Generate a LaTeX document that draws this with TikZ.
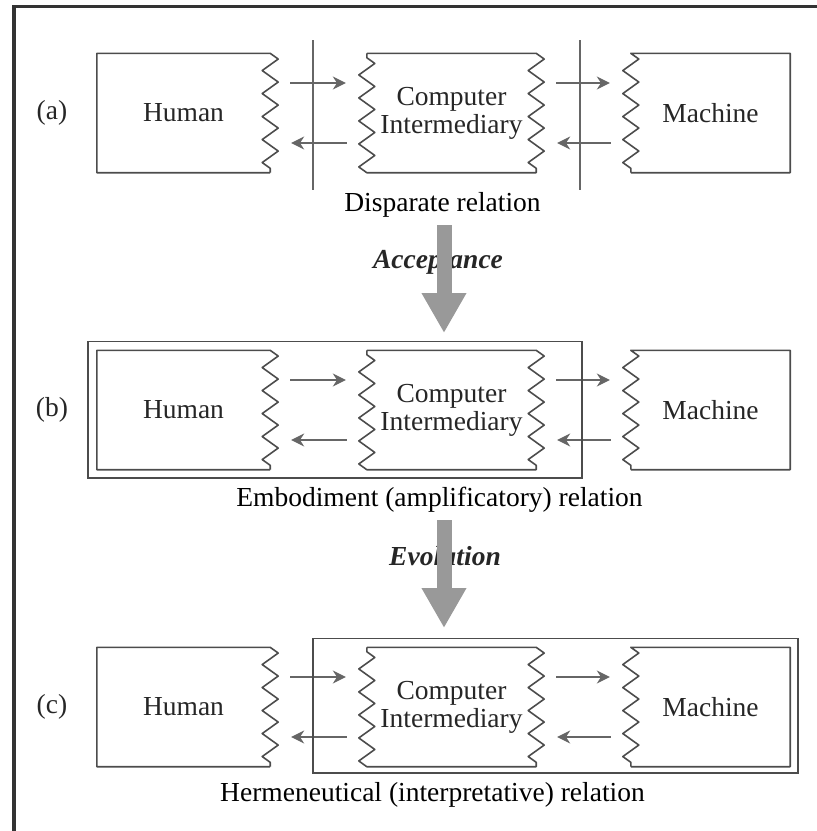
\documentclass[tikz,border=0pt]{standalone}
\usepackage{fontspec}
\setmainfont{Liberation Serif}
\usetikzlibrary{positioning,arrows.meta,decorations.pathmorphing}

\tikzset{
  unit/.style={inner sep=0pt, minimum height=119pt, align=center, text=black!85},
  edge/.style={line width=1.6pt, draw=black!70, line join=round},
  wavy/.style={decoration={zigzag, segment length=23pt, amplitude=8pt}},
  flow/.style={line width=1.2pt, draw=black!60, -{Stealth[length=13pt,width=13pt]},
    shorten <=20pt, shorten >=21pt},
  bigflow/.style={line width=15pt, draw=black!40, -{Triangle[length=40pt,width=42pt]}},
  frame/.style={line width=1.6pt, draw=black!70},
  divider/.style={line width=1.2pt, draw=black!60},
  tag/.style={text=black!85},
  stage/.style={text=black!85, font=\fontsize{27.5}{28}\selectfont\bfseries\itshape},
}

\begin{document}
\begin{tikzpicture}[x=1pt, y=1pt, node distance=2cm, on grid,
    font=\fontsize{27.5}{28}\selectfont]
  \useasboundingbox (0,0) rectangle (817,-831);
  \draw[line width=3.5pt, black!80] (14,-831) -- (14,-6.5) -- (817,-6.5);

  % the three parties, one row per relation
  \node[unit, minimum width=173pt] (humA) at (183.5,-113) {Human};
  \node[unit, minimum width=169pt] (compA) [right=268pt of humA] {Computer\\Intermediary};
  \node[unit, minimum width=159pt] (machA) [right=259pt of compA] {Machine};
  \node[unit, minimum width=173pt] (humB) [below=297pt of humA] {Human};
  \node[unit, minimum width=169pt] (compB) [below=297pt of compA] {Computer\\Intermediary};
  \node[unit, minimum width=159pt] (machB) [below=297pt of machA] {Machine};
  \node[unit, minimum width=173pt] (humC) [below=297pt of humB] {Human};
  \node[unit, minimum width=169pt] (compC) [below=297pt of compB] {Computer\\Intermediary};
  \node[unit, minimum width=159pt] (machC) [below=297pt of machB] {Machine};

  \node[tag] (labA) at (52,-113) {(a)};
  \node[tag] (labB) [below=297pt of labA] {(b)};
  \node[tag] (labC) [below=297pt of labB] {(c)};

  \foreach \r in {A,B,C}{
    \draw[edge] (hum\r.south east) -- (hum\r.south west) -- (hum\r.north west)
      -- (hum\r.north east) decorate[wavy]{-- (hum\r.south east)};
    \draw[edge] (comp\r.north west) -- (comp\r.north east)
      decorate[wavy]{-- (comp\r.south east)} -- (comp\r.south west)
      decorate[wavy]{-- (comp\r.north west)};
    \draw[edge] (mach\r.south west) -- (mach\r.south east) -- (mach\r.north east)
      -- (mach\r.north west) decorate[wavy]{-- (mach\r.south west)};
    \draw[flow] ([yshift=30pt]hum\r.east) -- ([yshift=30pt]comp\r.west);
    \draw[flow] ([yshift=-30pt]comp\r.west) -- ([yshift=-30pt]hum\r.east);
    \draw[flow] ([yshift=30pt]comp\r.east) -- ([yshift=30pt]mach\r.west);
    \draw[flow] ([yshift=-30pt]mach\r.west) -- ([yshift=-30pt]comp\r.east);
  }

  % (a) separate parties
  \draw[divider] (313,-40) -- (313,-190);
  \draw[divider] (580,-40) -- (580,-190);
  % (b) and (c) grouped parties
  \draw[frame] ([shift={(-9pt,9pt)}]humB.north west) rectangle ([shift={(46pt,-8pt)}]compB.south east);
  \draw[frame] ([shift={(-54pt,9pt)}]compC.north west) rectangle ([shift={(8pt,-6pt)}]machC.south east);

  \node (capA) [below=92pt of compA, xshift=-9pt] {Disparate relation};
  \node (capB) [below=90pt of compB, xshift=-12pt] {Embodiment (amplificatory) relation};
  \node (capC) [below=88pt of compC, xshift=-19pt] {Hermeneutical (interpretative) relation};

  \node[stage] (accept) at (438,-262) {Acceptance};
  \node[stage] (evolve) at (445,-556) {Evolution};
  \coordinate (accTop) at (444,-225);
  \coordinate (accEnd) at (444,-333);
  \coordinate (evoTop) at (444,-520);
  \coordinate (evoEnd) at (444,-628);
  \draw[bigflow] (accTop) -- (accEnd);
  \draw[bigflow] (evoTop) -- (evoEnd);
\end{tikzpicture}
\end{document}
